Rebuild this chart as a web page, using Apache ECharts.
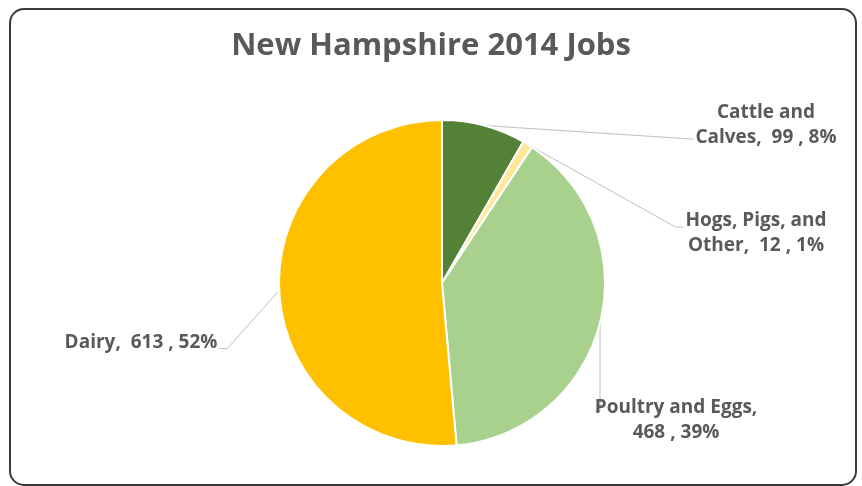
<!DOCTYPE html>
<html>
<head>
<meta charset="utf-8">
<script src="https://cdn.jsdelivr.net/npm/echarts@6/dist/echarts.min.js"></script>
<style>
  html, body { margin: 0; padding: 0; background: #fff; }
  #chart { width: 862px; height: 486px; }
</style>
</head>
<body>
<div id="chart"></div>
<script>
// data
var categories = ['Cattle and Calves', 'Hogs, Pigs, and Other', 'Poultry and Eggs', 'Dairy'];
var jobs = [99, 12, 468, 613];
var colors = ['#538135', '#FFE699', '#A9D18E', '#FFC000'];

// where each label sits (chart px) and how it wraps
var labelPos = [[766, 125], [756, 233], [676, 420], [141, 343]];
var labelText = [
  function (c, d) { return 'Cattle and\nCalves,  ' + c + ' , ' + d + '%'; },
  function (c, d) { return 'Hogs, Pigs, and\nOther,  ' + c + ' , ' + d + '%'; },
  function (c, d) { return 'Poultry and Eggs,\n' + c + ' , ' + d + '%'; },
  function (c, d) { return 'Dairy,  ' + c + ' , ' + d + '%'; }
];

// leader line shape, from the slice anchor p to the moved label box r
function guide(i, p, r) {
  if (i === 0) return [p, [r.x - 4, r.y + r.h * 0.78], [r.x - 2, r.y + r.h * 0.78]];
  if (i === 1) return [p, [r.x - 10, r.y + r.h * 0.38], [r.x - 2, r.y + r.h * 0.38]];
  if (i === 2) return [p, [p[0], r.y + 16], [p[0] - 5, r.y + 16]];
  return [p, [r.x + r.w + 10, r.y + r.h * 0.72], [r.x + r.w + 2, r.y + r.h * 0.72]];
}

var myChart = echarts.init(document.getElementById('chart'));
var option = {
  backgroundColor: '#fff',
  animation: false,
  title: {
    text: 'New Hampshire 2014 Jobs',
    left: 'center',
    top: 26,
    textStyle: {
      color: '#595959',
      fontSize: 31,
      fontWeight: 'bold',
      fontFamily: 'Open Sans'
    }
  },
  graphic: [{
    type: 'rect',
    shape: { x: 10, y: 9, width: 846, height: 476, r: 14 },
    style: { fill: 'none', stroke: '#3a3a3a', lineWidth: 2 },
    z: 100
  }],
  series: [{
    type: 'pie',
    center: [442, 283],
    radius: 163,
    startAngle: 90,
    clockwise: true,
    percentPrecision: 0,
    itemStyle: { borderColor: '#fff', borderWidth: 2 },
    label: {
      show: true,
      color: '#595959',
      fontSize: 19,
      fontWeight: 'bold',
      fontFamily: 'Open Sans',
      lineHeight: 25,
      align: 'center',
      formatter: function (p) {
        return labelText[p.dataIndex](p.value, p.percent);
      }
    },
    labelLine: {
      show: true,
      length: 0,
      length2: 10,
      lineStyle: { color: '#bfbfbf', width: 1 }
    },
    labelLayout: function (p) {
      var pos = labelPos[p.dataIndex];
      var w = p.labelRect.width, h = p.labelRect.height;
      var r = { x: pos[0] - w / 2, y: pos[1] - h / 2, w: w, h: h };
      var res = { x: pos[0], y: pos[1], align: 'center', verticalAlign: 'middle' };
      if (p.labelLinePoints) {
        res.labelLinePoints = guide(p.dataIndex, p.labelLinePoints[0].slice(), r);
      }
      return res;
    },
    data: categories.map(function (n, i) {
      return { name: n, value: jobs[i], itemStyle: { color: colors[i] } };
    })
  }]
};
myChart.setOption(option);
</script>
</body>
</html>
